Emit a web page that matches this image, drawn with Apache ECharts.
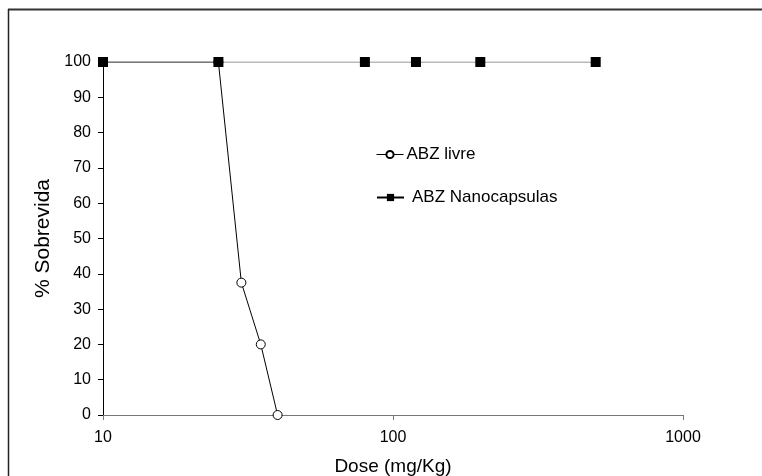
<!DOCTYPE html>
<html>
<head>
<meta charset="utf-8">
<script src="https://cdn.jsdelivr.net/npm/echarts@6/dist/echarts.min.js"></script>
<style>
html,body{margin:0;padding:0;background:#fff;}
#chart{width:762px;height:476px;}
</style>
</head>
<body>
<div id="chart"></div>
<script>
var livreDose = [10, 25, 30, 35, 40];
var livreSurv = [100, 100, 37.5, 20, 0];
var nanoDose = [10, 25, 80, 120, 200, 500];
var nanoSurv = [100, 100, 100, 100, 100, 100];
var seriesNames = ['ABZ livre', 'ABZ Nanocapsulas'];
var xTitle = 'Dose (mg/Kg)';
var yTitle = '% Sobrevida';

function pairs(xs, ys) { return xs.map(function (x, i) { return [x, ys[i]]; }); }

var chart = echarts.init(document.getElementById('chart'));
var font = 'Liberation Sans, Arial, sans-serif';
chart.setOption({
  animation: false,
  backgroundColor: '#fff',
  grid: { left: 103, right: 79, top: 62, bottom: 61, containLabel: false, outerBoundsMode: 'none' },
  graphic: [
    { type: 'line', shape: { x1: 8, y1: 9.5, x2: 762, y2: 9.5 }, style: { stroke: '#333', lineWidth: 2 }, silent: true },
    { type: 'line', shape: { x1: 8.5, y1: 9, x2: 8.5, y2: 476 }, style: { stroke: '#222', lineWidth: 1.5 }, silent: true }
  ],
  legend: [
    {
      data: [seriesNames[0]], left: 371, top: 141, itemWidth: 27, itemHeight: 9, itemGap: 4,
      textStyle: { fontFamily: font, fontSize: 17, color: '#000', padding: [0, 0, 0, -2] },
      lineStyle: { color: '#000', width: 1 }
    },
    {
      data: [seriesNames[1]], left: 371, top: 184, itemWidth: 27, itemHeight: 9,
      textStyle: { fontFamily: font, fontSize: 17, color: '#000', padding: [0, 0, 0, 3] },
      lineStyle: { color: '#000', width: 2 }
    }
  ],
  xAxis: {
    type: 'log', logBase: 10, min: 10, max: 1000,
    name: xTitle, nameLocation: 'middle', nameGap: 42,
    nameTextStyle: { fontFamily: font, fontSize: 19, color: '#000' },
    axisLine: { lineStyle: { color: '#777', width: 1 } },
    axisTick: { show: true, length: 5, lineStyle: { color: '#777' } },
    minorTick: { show: false },
    splitLine: { show: false },
    axisLabel: { fontFamily: font, fontSize: 16, color: '#000', margin: 15, formatter: function (v) { return String(v); } }
  },
  yAxis: {
    type: 'value', min: 0, max: 100, interval: 10,
    name: yTitle, nameLocation: 'middle', nameGap: 44,
    nameTextStyle: { fontFamily: font, fontSize: 21, color: '#000' },
    axisLine: { show: true, lineStyle: { color: '#000', width: 1 } },
    axisTick: { show: true, length: 5, lineStyle: { color: '#000' } },
    splitLine: { show: false },
    axisLabel: { fontFamily: font, fontSize: 16, color: '#000', margin: 12 }
  },
  series: [
    {
      name: seriesNames[0], type: 'line', data: pairs(livreDose, livreSurv),
      symbol: 'circle', symbolSize: 9, z: 3,
      lineStyle: { color: '#000', width: 1 },
      itemStyle: { color: '#fff', borderColor: '#000', borderWidth: 1 }
    },
    {
      name: seriesNames[1], type: 'line', data: pairs(nanoDose, nanoSurv),
      symbol: 'rect', symbolSize: 10, z: 4,
      lineStyle: { color: '#777', width: 1 },
      itemStyle: { color: '#000', borderColor: '#000', borderWidth: 0 }
    }
  ]
});
</script>
</body>
</html>
